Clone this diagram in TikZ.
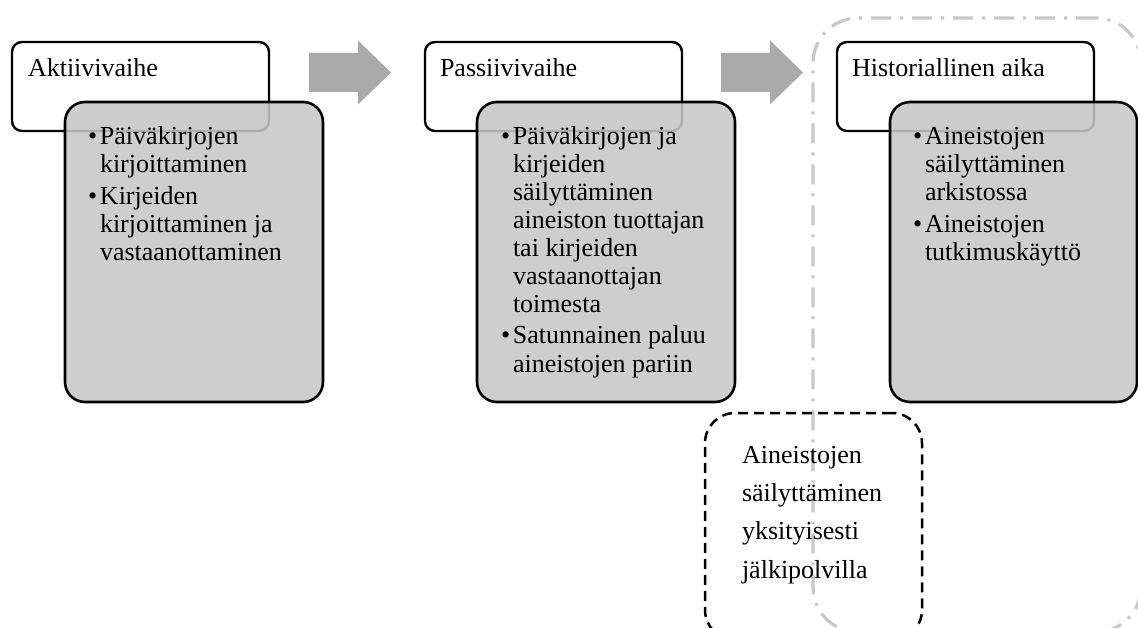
\documentclass[tikz,border=0pt]{standalone}
\usepackage{fontspec}
\setmainfont{Liberation Serif}
\definecolor{detailgrey}{RGB}{199,199,199}
\definecolor{arrowgrey}{RGB}{170,170,170}
\definecolor{framegrey}{RGB}{200,200,200}
\begin{document}
\begin{tikzpicture}[x=1pt,y=-1pt,
  every node/.style={inner sep=0pt, outer sep=0pt},
  txt/.style={anchor=base west, font=\fontsize{26pt}{28pt}\selectfont, text=black},
  phasebox/.style={draw=black, line width=2.4pt, fill=white, rounded corners=10pt, anchor=north west, minimum width=257pt, minimum height=89pt},
  detailbox/.style={draw=black, line width=2.6pt, fill=detailgrey, fill opacity=0.88, rounded corners=20pt, anchor=north west, minimum width=258pt, minimum height=300pt},
  blockarrow/.style={fill=arrowgrey, draw=none},
  archiveframe/.style={draw=framegrey, line width=3.2pt, dash pattern=on 20pt off 9pt on 3pt off 9pt, rounded corners=45pt, anchor=north west, minimum width=328pt, minimum height=614pt},
  privatebox/.style={draw=black, line width=2.5pt, dash pattern=on 10pt off 6pt, rounded corners=30pt, anchor=north west, minimum width=217pt, minimum height=227pt},
]
\useasboundingbox (0,0) rectangle (1138,628);
\clip (0,0) rectangle (1138,628);

% archive frame
\node[archiveframe] (archive) at (813,18) {};

% phase boxes
\node[phasebox] (p1) at (12,42) {};
\node[phasebox] (p2) at (425,42) {};
\node[phasebox] (p3) at (837,42) {};

% detail boxes
\node[detailbox] (d1) at (65,102) {};
\node[detailbox] (d2) at (477,102) {};
\node[detailbox, minimum width=247pt] (d3) at (890,102) {};

% block arrows
\fill[blockarrow] (309,53) -- (358,53) -- (358,40.5) -- (391,72.5) -- (358,104.5) -- (358,92) -- (309,92) -- cycle;
\fill[blockarrow] (721,53) -- (770,53) -- (770,40.5) -- (803,72.5) -- (770,104.5) -- (770,92) -- (721,92) -- cycle;

% private storage box
\node[privatebox] (priv) at (705,413) {};

% titles
\node[txt] (h1) at (28,77) {Aktiivivaihe};
\node[txt] (h2) at (440,77) {Passiivivaihe};
\node[txt] (h3) at (852,77) {Historiallinen aika};

% column 1
\node[txt] (a1) at (88,145) {\makebox[12pt][l]{•}Päiväkirjojen};
\node[txt] (a2) at (100,173) {kirjoittaminen};
\node[txt] (a3) at (88,205) {\makebox[12pt][l]{•}Kirjeiden};
\node[txt] (a4) at (100,233) {kirjoittaminen ja};
\node[txt] (a5) at (100,261) {vastaanottaminen};

% column 2
\node[txt] (b1) at (501,145) {\makebox[12pt][l]{•}Päiväkirjojen ja};
\node[txt] (b2) at (513,173) {kirjeiden};
\node[txt] (b3) at (513,201) {säilyttäminen};
\node[txt] (b4) at (513,229) {aineiston tuottajan};
\node[txt] (b5) at (513,257) {tai kirjeiden};
\node[txt] (b6) at (513,285) {vastaanottajan};
\node[txt] (b7) at (513,313) {toimesta};
\node[txt] (b8) at (501,344) {\makebox[12pt][l]{•}Satunnainen paluu};
\node[txt] (b9) at (513,372) {aineistojen pariin};

% column 3
\node[txt] (c1) at (913,145) {\makebox[12pt][l]{•}Aineistojen};
\node[txt] (c2) at (925,173) {säilyttäminen};
\node[txt] (c3) at (925,201) {arkistossa};
\node[txt] (c4) at (913,233) {\makebox[12pt][l]{•}Aineistojen};
\node[txt] (c5) at (925,261) {tutkimuskäyttö};

% private box text
\node[txt] (e1) at (742,463) {Aineistojen};
\node[txt] (e2) at (742,501.3) {säilyttäminen};
\node[txt] (e3) at (742,539.6) {yksityisesti};
\node[txt] (e4) at (742,578) {jälkipolvilla};
\end{tikzpicture}
\end{document}
